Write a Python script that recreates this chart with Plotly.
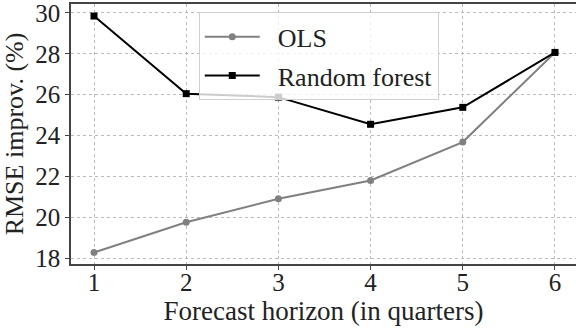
import plotly.graph_objects as go

horizons = [1, 2, 3, 4, 5, 6]
ols = [18.27, 19.75, 20.9, 21.8, 23.68, 28.07]
rf = [29.85, 26.05, 25.88, 24.55, 25.38, 28.07]
y_ticks = [18, 20, 22, 24, 26, 28, 30]
series_names = ["OLS", "Random forest"]

FONT = "Liberation Serif, Times New Roman, serif"
fnt = dict(family=FONT, size=25, color="#222")
title_fnt = dict(family=FONT, size=27, color="#222")

fig = go.Figure()
fig.add_trace(go.Scatter(x=horizons, y=ols, name="\u00a0\u00a0" + series_names[0],
                         mode="lines+markers", legendgroup="a",
                         line=dict(color="#808080", width=2),
                         marker=dict(symbol="circle", size=7, color="#808080")))
fig.add_trace(go.Scatter(x=horizons, y=rf, name="\u00a0\u00a0" + series_names[1],
                         mode="lines+markers", legendgroup="b",
                         line=dict(color="black", width=2),
                         marker=dict(symbol="square", size=7, color="black")))

fig.update_layout(
    width=576, height=333,
    margin=dict(l=71, r=0, t=2, b=69),
    plot_bgcolor="white", paper_bgcolor="white",
    font=dict(fnt),
    legend=dict(x=0.253, y=0.968, xanchor="left", yanchor="top",
                bgcolor="rgba(255,255,255,0.8)", bordercolor="#d0d0d0", borderwidth=1,
                font=dict(family=FONT, size=26, color="#222"), itemwidth=55,
                tracegroupgap=2),
    xaxis=dict(range=[0.7505, 6.228], tickvals=horizons, showline=True, linecolor="#444",
               linewidth=1.5, mirror=True, ticks="outside", ticklen=4, tickcolor="#444",
               showgrid=True, gridcolor="#bbbbbb", griddash="dot", gridwidth=1,
               zeroline=False, tickfont=dict(fnt), ticklabeloverflow="allow",
               ticklabelstandoff=-9,
               title=dict(text="Forecast horizon (in quarters)", standoff=1, font=title_fnt)),
    yaxis=dict(range=[17.71, 30.44], tickvals=y_ticks, showline=True, linecolor="#444",
               linewidth=1.5, ticks="outside", ticklen=4, tickcolor="#444",
               showgrid=True, gridcolor="#bbbbbb", griddash="dot", gridwidth=1,
               zeroline=False, tickfont=dict(fnt), ticklabeloverflow="allow",
               title=dict(text="RMSE improv. (%)", standoff=4, font=dict(family=FONT, size=26, color="#222"))),
)

fig.write_html("out.html")
